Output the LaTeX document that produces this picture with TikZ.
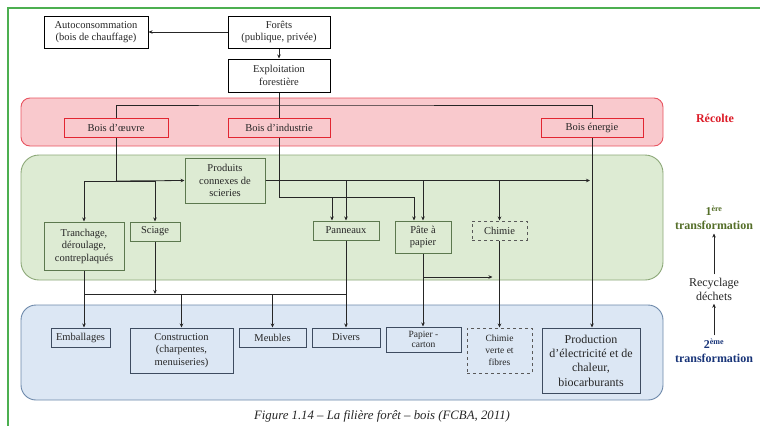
\documentclass[tikz,border=0pt]{standalone}
\usepackage{fontspec}
\setmainfont{Liberation Serif}
\usetikzlibrary{arrows.meta, positioning}

\definecolor{cadre}{RGB}{76,175,80}
\definecolor{recfill}{RGB}{249,201,205}
\definecolor{recline}{RGB}{232,84,96}
\definecolor{recedge}{RGB}{226,38,50}
\definecolor{prefill}{RGB}{221,235,211}
\definecolor{preline}{RGB}{140,168,120}
\definecolor{preedge}{RGB}{92,120,78}
\definecolor{deufill}{RGB}{220,231,244}
\definecolor{deuline}{RGB}{108,136,170}
\definecolor{deuedge}{RGB}{62,76,96}
\definecolor{rectxt}{RGB}{220,28,40}
\definecolor{pretxt}{RGB}{84,110,40}
\definecolor{deutxt}{RGB}{24,52,120}

\begin{document}
\begin{tikzpicture}[
	  x=1pt, y=-1pt,
	  font=\fontsize{10.5}{12.5}\selectfont,
	  topbox/.style={rectangle, draw=black, fill=white, line width=1pt, align=center, inner sep=1pt, text=black!85},
	  recbox/.style={rectangle, draw=recedge, fill=recfill, line width=1pt, align=center, inner sep=1pt, minimum height=19pt, text=black!85},
	  prebox/.style={rectangle, draw=preedge, fill=prefill, line width=1pt, align=center, inner sep=1pt, minimum height=19pt, text=black!85},
	  deubox/.style={rectangle, draw=deuedge, fill=deufill, line width=1pt, align=center, inner sep=1pt, minimum height=19pt, text=black!85},
	  recband/.style={draw=recline, fill=recfill, line width=0.9pt, rounded corners=9pt},
	  preband/.style={draw=preline, fill=prefill, line width=0.9pt, rounded corners=18pt},
	  deuband/.style={draw=deuline, fill=deufill, line width=0.9pt, rounded corners=15pt},
	  sidelabel/.style={align=center, font=\fontsize{12}{14}\selectfont\bfseries},
	  line/.style={line width=0.8pt, draw=black!85},
	  arrow/.style={line width=0.8pt, draw=black!85, ->, >={Stealth[length=4pt, width=3.5pt]}}
	]

	\useasboundingbox (0,0) rectangle (760,426);
	\draw [cadre, line width=1.2pt] (760,8) -- (8,8) -- (8,426);

	% bandes
	\draw [recband] (21,98) rectangle (663,146);
	\draw [preband] (21,155) rectangle (663,280);
	\draw [deuband] (21,305) rectangle (663,400);

	\node (autocons) [topbox, minimum width=104pt, minimum height=32pt] at (96,32) {Autoconsommation\\(bois de chauffage)};
	\node (forets) [topbox, minimum width=102pt, minimum height=32pt] at (279,32) {Forêts\\(publique, privée)};
	\node (exploit) [topbox, minimum width=102pt, minimum height=33pt, below=10pt of forets] {Exploitation\\forestière};

	\node (oeuvre) [recbox, minimum width=104pt] at (116,127.5) {Bois d’œuvre};
	\node (industrie) [recbox, minimum width=102pt] at (279,127.5) {Bois d’industrie};
	\node (energie) [recbox, minimum width=102pt] at (592,127.5) {Bois énergie};

	\node (connexes) [prebox, minimum width=80pt, minimum height=45pt] at (225,180.5) {Produits\\connexes de\\scieries};
	\node (tranchage) [prebox, minimum width=80pt, minimum height=48pt] at (84,246) {Tranchage,\\déroulage,\\contreplaqués};
	\node (sciage) [prebox, minimum width=50pt] at (155,231.5) {Sciage};
	\node (panneaux) [prebox, minimum width=66pt] at (346,230.5) {Panneaux};
	\node (pate) [prebox, minimum width=56pt, minimum height=32pt] at (423,237) {Pâte à\\papier};
	\node (chimie) [prebox, dashed, draw=black!65, minimum width=55pt] at (499.5,230.5) {Chimie};

	\node (emballages) [deubox, minimum width=59pt] at (80.5,337.5) {Emballages};
	\node (construction) [deubox, minimum width=103pt, minimum height=45pt] at (181.5,350.5) {Construction\\(charpentes,\\menuiseries)};
	\node (meubles) [deubox, minimum width=67pt] at (272.5,337.5) {Meubles};
	\node (divers) [deubox, minimum width=68pt] at (346,337.5) {Divers};
	\node (papier) [deubox, minimum width=75pt, minimum height=25pt, font=\fontsize{9.5}{10.5}\selectfont] at (423.5,339.5) {Papier -\\carton};
	\node (chimieverte) [deubox, dashed, draw=black!65, minimum width=65pt, minimum height=45pt, font=\fontsize{9.5}{12}\selectfont] at (499.5,350.5) {Chimie\\verte et\\fibres};
	\node (production) [deubox, minimum width=98pt, minimum height=65pt, font=\fontsize{12}{14.3}\selectfont] at (591,360.5) {Production\\d’électricité et de\\chaleur,\\biocarburants};

	\node (recolte) [sidelabel, text=rectxt] at (715,118) {Récolte};
	\node (premiere) [sidelabel, text=pretxt] at (714,218) {1\textsuperscript{ère}\\transformation};
	\node (recyclage) [align=center, font=\fontsize{12}{14}\selectfont, text=black!85] at (714,289) {Recyclage\\déchets};
	\node (deuxieme) [sidelabel, text=deutxt] at (714,351) {2\textsuperscript{ème}\\transformation};

	\node (legende) [font=\fontsize{12.8}{14}\selectfont\itshape, text=black!85] at (382,416) {Figure 1.14 – La filière forêt – bois (FCBA, 2011)};

	\coordinate (split) at (279,105);
	\coordinate (jo) at (116,181);
	\coordinate (ji) at (279,197);
	\coordinate (jb) at (84,294);
	\coordinate (jp) at (346,294);
	\coordinate (jr) at (423,277);

	\draw [arrow] (forets) -- (autocons);
	\draw [arrow] (forets) -- (exploit);
	\draw [line] (exploit) -- (industrie);
	\draw [line] (oeuvre.north) |- (split) -| (energie.north);
	\draw [line] (oeuvre.south) -- (jo);
	\draw [arrow] (jo) -- (connexes.west);
	\draw [arrow] (jo) -| (tranchage.north);
	\draw [arrow] (jo) -| (sciage.north);
	\draw [arrow] (connexes.east) -- ([xshift=-2pt]connexes.east -| energie.south);
	\draw [arrow] (connexes.east) -| (panneaux.north);
	\draw [arrow] (connexes.east) -| (pate.north);
	\draw [arrow] (connexes.east) -| (chimie.north);
	\draw [line] (industrie.south) -- (ji);
	\draw [arrow] (ji) -| ([xshift=-14pt]panneaux.north);
	\draw [arrow] (ji) -| ([xshift=-9pt]pate.north);
	\draw [arrow] (energie.south) -- (energie.south |- production.north);
	\draw [line] (tranchage.south) -- (jb) -- (jp);
	\draw [line] (panneaux.south) -- (jp);
	\draw [arrow] (sciage.south) -- (sciage.south |- jb);
	\draw [arrow] (jb) -- (jb |- emballages.north);
	\draw [arrow] (jb) -| (construction.north);
	\draw [arrow] (jb) -| (meubles.north);
	\draw [arrow] (jp) -- (divers.north);
	\draw [arrow] (pate.south) -- (pate.south |- papier.north);
	\draw [arrow] (jr) -- ([xshift=-7pt]jr -| chimie.south);
	\draw [arrow] (chimie.south) -- (chimieverte.north);
	\draw [arrow, line width=0.5pt] (recyclage) -- (premiere);
	\draw [arrow, line width=0.5pt] (deuxieme) -- (recyclage);

	\end{tikzpicture}
\end{document}
